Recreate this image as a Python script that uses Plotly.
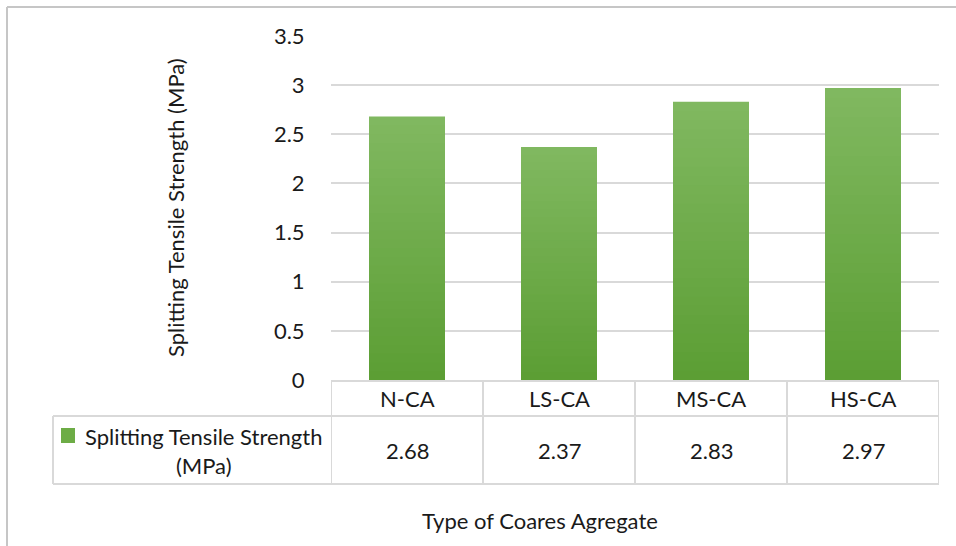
import plotly.graph_objects as go

# ---- data ----
categories = ["N-CA", "LS-CA", "MS-CA", "HS-CA"]
strength = [2.68, 2.37, 2.83, 2.97]
value_labels = ["2.68", "2.37", "2.83", "2.97"]
y_ticks = [0, 0.5, 1, 1.5, 2, 2.5, 3, 3.5]
y_tick_text = ["0", "0.5", "1", "1.5", "2", "2.5", "3", "3.5"]
series_name = "Splitting Tensile Strength<br>(MPa)"
y_title = "Splitting Tensile Strength (MPa)"
x_title = "Type of Coares Agregate"

# ---- layout geometry (pixels) ----
W, H = 956, 546
L, R, T, B = 331, 17, 36, 166
PW, PH = W - L - R, H - T - B
FONT = "Lato"
FS = 22
TXT = "#1a1a1a"
GRID = "#d9d9d9"


def px(xp):
    return (xp - L) / PW


def py(yp):
    return (H - B - yp) / PH


def blend(c1, c2, t):
    a = [int(c1[i:i + 2], 16) for i in (1, 3, 5)]
    b = [int(c2[i:i + 2], 16) for i in (1, 3, 5)]
    return "rgb(%d,%d,%d)" % tuple(round(a[i] + (b[i] - a[i]) * t) for i in range(3))


TOP_GREEN, BOTTOM_GREEN = "#80b860", "#5c9e34"

fig = go.Figure()

# vertical gradient: stacked overlays of each bar, lighter at the top
steps = 30
for k in range(steps):
    frac = (steps - k) / steps
    fig.add_trace(go.Bar(
        x=categories,
        y=[v * frac for v in strength],
        marker=dict(color=blend(TOP_GREEN, BOTTOM_GREEN, k / (steps - 1)), line=dict(width=0)),
        width=0.5,
        showlegend=False,
        hoverinfo="skip",
    ))

shapes = []
line = dict(color=GRID, width=2)
# outer chart frame
shapes.append(dict(type="line", xref="paper", yref="paper", x0=px(7), x1=px(W + 5), y0=py(7), y1=py(7),
                   line=dict(color="#c6c6c6", width=2)))
shapes.append(dict(type="line", xref="paper", yref="paper", x0=px(7), x1=px(7), y0=py(7), y1=py(H + 5),
                   line=dict(color="#c6c6c6", width=2)))
# data table grid
for xv in [-0.5, 0.5, 1.5, 2.5, 3.5]:
    shapes.append(dict(type="line", xref="x", yref="paper", x0=xv, x1=xv, y0=py(380), y1=py(484), line=line))
shapes.append(dict(type="line", xref="paper", yref="paper", x0=px(53), x1=px(53), y0=py(416), y1=py(484), line=line))
for yp in (416, 484):
    shapes.append(dict(type="line", xref="paper", yref="paper", x0=px(53), x1=1, y0=py(yp), y1=py(yp), line=line))
# legend key square
shapes.append(dict(type="rect", xref="paper", yref="paper", x0=px(61), x1=px(75), y0=py(428), y1=py(443),
                   fillcolor="#6dac46", line=dict(width=0)))

annotations = []
for c, t in zip(categories, value_labels):
    annotations.append(dict(x=c, y=py(398), xref="x", yref="paper", text=c, showarrow=False,
                            xanchor="center", yanchor="middle", font=dict(family=FONT, size=FS, color=TXT)))
    annotations.append(dict(x=c, y=py(450), xref="x", yref="paper", text=t, showarrow=False,
                            xanchor="center", yanchor="middle", font=dict(family=FONT, size=FS, color=TXT)))
annotations.append(dict(x=px(203), y=py(451), xref="paper", yref="paper", text=series_name, showarrow=False,
                        align="center", xanchor="center", yanchor="middle",
                        font=dict(family=FONT, size=FS, color=TXT)))
annotations.append(dict(x=px(540), y=py(520), xref="paper", yref="paper", text=x_title, showarrow=False,
                        xanchor="center", yanchor="middle", font=dict(family=FONT, size=FS, color=TXT)))
annotations.append(dict(x=px(175), y=py(208), xref="paper", yref="paper", text=y_title, showarrow=False,
                        xanchor="center", yanchor="middle", textangle=-90,
                        font=dict(family=FONT, size=FS, color=TXT)))

fig.update_layout(
    width=W, height=H,
    margin=dict(l=L, r=R, t=T, b=B),
    paper_bgcolor="white", plot_bgcolor="white",
    barmode="overlay",
    showlegend=False,
    font=dict(family=FONT, size=FS, color=TXT),
    shapes=shapes,
    annotations=annotations,
    xaxis=dict(range=[-0.5, 3.5], showticklabels=False, showgrid=False, zeroline=False,
               showline=True, linecolor=GRID, linewidth=2, ticks=""),
    yaxis=dict(range=[0, 3.5], tickvals=y_ticks, ticktext=y_tick_text, showgrid=True, gridcolor=GRID,
               gridwidth=2, zeroline=False, showline=False, ticks="outside", ticklen=21,
               tickcolor="rgba(0,0,0,0)", tickfont=dict(family=FONT, size=FS, color=TXT)),
)

fig.write_html("out.html")
